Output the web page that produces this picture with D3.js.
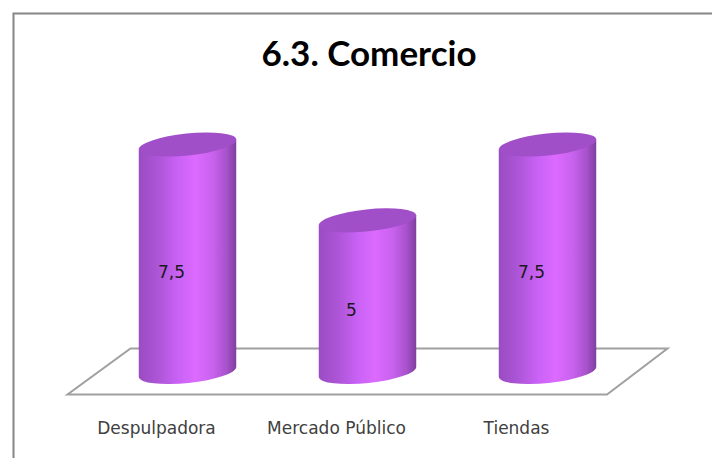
<!DOCTYPE html>
<html>
<head>
<meta charset="utf-8">
<script src="https://cdn.jsdelivr.net/npm/d3@7"></script>
<style>html,body{margin:0;padding:0;background:#fff}svg{display:block}</style>
</head>
<body>
<svg id="c" width="712" height="458"></svg>
<script>
const categories = ["Despulpadora", "Mercado Público", "Tiendas"];
const values = [7.5, 5, 7.5];
const chartTitle = "6.3. Comercio";

const svg = d3.select("#c");
const x = d3.scalePoint().domain(categories).range([187.5, 547.5]);
const y = d3.scaleLinear().domain([0, 7.5]).range([372, 144.5]);
const rx = 49, ry = 11, rot = -6;
const dx = rx * Math.cos(rot * Math.PI / 180), dy = rx * Math.sin(-rot * Math.PI / 180);

const defs = svg.append("defs");
const grad = defs.append("linearGradient").attr("id", "body").attr("x1", "0").attr("x2", "1").attr("y1", "0").attr("y2", "0");
[[0, "#9a4cc2"], [0.2, "#ad55d8"], [0.4, "#c962f5"], [0.58, "#dc6aff"], [0.76, "#c862ee"], [0.9, "#a852cc"], [1, "#803f9e"]]
  .forEach(([o, c]) => grad.append("stop").attr("offset", o).attr("stop-color", c));

// chart frame: open on the right and bottom
svg.append("path").attr("d", "M13.5,458V13.5H712").attr("fill", "none").attr("stroke", "#868686").attr("stroke-width", 2);

// floor
svg.append("path").attr("d", "M67.5,394.5H607L667.5,348.5H130.5Z")
  .attr("fill", "#fff").attr("stroke", "#a0a0a0").attr("stroke-width", 2).attr("stroke-linejoin", "miter");

svg.append("text").attr("x", 369).attr("y", 66).attr("text-anchor", "middle")
  .attr("font-family", "Lato, sans-serif").attr("font-weight", 700).attr("font-size", 35).attr("fill", "#000").text(chartTitle);

const rows = categories.map((c, i) => ({ c, v: values[i] }));
const g = svg.selectAll("g.bar").data(rows).join("g").attr("class", "bar");

g.append("path").attr("fill", "url(#body)").attr("d", d => {
  const cx = x(d.c);
  return `M${cx - dx},${y(d.v) + dy}L${cx - dx},${y(0) + dy}A${rx},${ry} ${rot} 0 0 ${cx + dx},${y(0) - dy}L${cx + dx},${y(d.v) - dy}Z`;
});
g.append("ellipse").attr("cx", 0).attr("cy", 0).attr("rx", rx).attr("ry", ry)
  .attr("transform", d => `translate(${x(d.c)},${y(d.v)}) rotate(${rot})`)
  .attr("fill", "#a04fc8");

g.append("text").attr("x", d => x(d.c) - 16).attr("y", d => (y(d.v) + y(0)) / 2 + 20)
  .attr("text-anchor", "middle").attr("font-family", "'DejaVu Sans', sans-serif").attr("font-size", 17).attr("fill", "#1a1a1a")
  .text(d => String(d.v).replace(".", ","));

g.append("text").attr("x", d => x(d.c) - 31).attr("y", 434)
  .attr("text-anchor", "middle").attr("font-family", "'DejaVu Sans', sans-serif").attr("font-size", 17).attr("fill", "#404040")
  .text(d => d.c);
</script>
</body>
</html>
